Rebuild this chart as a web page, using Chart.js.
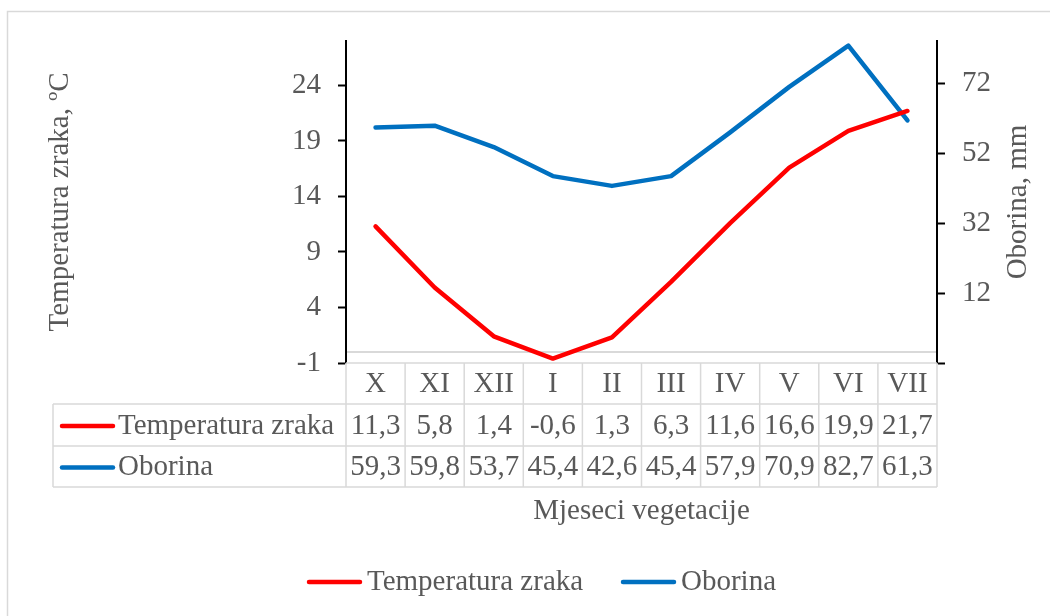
<!DOCTYPE html>
<html>
<head>
<meta charset="utf-8">
<script src="https://cdn.jsdelivr.net/npm/chart.js@4/dist/chart.umd.min.js"></script>
<style>
  html, body { margin: 0; padding: 0; background: #fff; overflow: hidden; }
  #wrap { position: relative; width: 1050px; height: 616px; }
</style>
</head>
<body>
<div id="wrap"><canvas id="chart" width="1050" height="616"></canvas></div>
<script>
var months = ["X", "XI", "XII", "I", "II", "III", "IV", "V", "VI", "VII"];
var temperatura = [11.3, 5.8, 1.4, -0.6, 1.3, 6.3, 11.6, 16.6, 19.9, 21.7];
var oborina = [59.3, 59.8, 53.7, 45.4, 42.6, 45.4, 57.9, 70.9, 82.7, 61.3];
var seriesNames = ["Temperatura zraka", "Oborina"];
var seriesColors = ["#FF0000", "#0070C0"];
var tempTicks = [-1, 4, 9, 14, 19, 24];
var oborinaTicks = [-8, 12, 32, 52, 72];

var FONT = "'Liberation Serif', 'Times New Roman', serif";
var TEXT = "#595959";
var GRID = "#d9d9d9";

function fmt(v) {
  return v.toFixed(1).replace(".", ",");
}

// draws the frame, the zero line, the data table and the bottom legend
var tablePlugin = {
  id: "dataTable",
  beforeDraw: function(chart) {
    var ctx = chart.ctx;
    ctx.save();
    ctx.strokeStyle = GRID;
    ctx.lineWidth = 1.5;
    ctx.beginPath();
    ctx.moveTo(7.5, 700);
    ctx.lineTo(7.5, 11.5);
    ctx.lineTo(1100, 11.5);
    ctx.stroke();

    var y0 = chart.scales.y.getPixelForValue(0);
    ctx.lineWidth = 2;
    ctx.beginPath();
    ctx.moveTo(chart.chartArea.left, y0);
    ctx.lineTo(chart.chartArea.right, y0);
    ctx.stroke();
    ctx.restore();
  },
  afterDraw: function(chart) {
    var ctx = chart.ctx;
    var x = chart.scales.x;
    var area = chart.chartArea;
    var rows = [area.bottom, 404, 446, 487];
    var labelLeft = 53;
    var edges = [];
    for (var i = 0; i <= months.length; i++) {
      edges.push(x.getPixelForValue(i - 0.5));
    }

    ctx.save();
    ctx.strokeStyle = GRID;
    ctx.lineWidth = 1.5;
    ctx.beginPath();
    ctx.moveTo(edges[0], rows[0]);
    ctx.lineTo(edges[edges.length - 1], rows[0]);
    for (var r = 1; r < rows.length; r++) {
      ctx.moveTo(labelLeft, rows[r]);
      ctx.lineTo(edges[edges.length - 1], rows[r]);
    }
    edges.forEach(function(ex) {
      ctx.moveTo(ex, rows[0]);
      ctx.lineTo(ex, rows[3]);
    });
    ctx.moveTo(labelLeft, rows[1]);
    ctx.lineTo(labelLeft, rows[3]);
    ctx.stroke();

    ctx.fillStyle = TEXT;
    ctx.font = "29px " + FONT;
    ctx.textAlign = "center";
    ctx.textBaseline = "middle";
    var data = [temperatura, oborina];
    months.forEach(function(m, i) {
      var cx = x.getPixelForValue(i);
      ctx.fillText(m, cx, (rows[0] + rows[1]) / 2 + 1);
      ctx.fillText(fmt(data[0][i]), cx, (rows[1] + rows[2]) / 2 + 1);
      ctx.fillText(fmt(data[1][i]), cx, (rows[2] + rows[3]) / 2 + 1);
    });

    // right axis title, reading bottom to top like the left one
    ctx.save();
    ctx.translate(1018, (area.top + area.bottom) / 2);
    ctx.rotate(-Math.PI / 2);
    ctx.fillText("Oborina, mm", 0, 0);
    ctx.restore();

    // series keys in the table
    ctx.textAlign = "left";
    ctx.lineCap = "round";
    ctx.lineWidth = 4.5;
    for (var s = 0; s < 2; s++) {
      var cy = (rows[s + 1] + rows[s + 2]) / 2;
      ctx.strokeStyle = seriesColors[s];
      ctx.beginPath();
      ctx.moveTo(62, cy + 1);
      ctx.lineTo(113, cy + 1);
      ctx.stroke();
      ctx.fillText(seriesNames[s], 118, cy + 1);
    }

    // legend
    var ly = 582;
    var lx = [309, 623];
    for (var k = 0; k < 2; k++) {
      ctx.strokeStyle = seriesColors[k];
      ctx.beginPath();
      ctx.moveTo(lx[k], ly);
      ctx.lineTo(lx[k] + 51, ly);
      ctx.stroke();
      ctx.fillText(seriesNames[k], lx[k] + 58, ly);
    }
    ctx.restore();
  }
};

var ctx = document.getElementById("chart");
var myChart = new Chart(ctx, {
  type: "line",
  data: {
    labels: months,
    datasets: [
      {
        label: seriesNames[0],
        data: temperatura,
        borderColor: seriesColors[0],
        backgroundColor: seriesColors[0],
        borderWidth: 4.5,
        pointRadius: 0,
        tension: 0,
        borderJoinStyle: "round",
        borderCapStyle: "round",
        yAxisID: "y"
      },
      {
        label: seriesNames[1],
        data: oborina,
        borderColor: seriesColors[1],
        backgroundColor: seriesColors[1],
        borderWidth: 4.5,
        pointRadius: 0,
        tension: 0,
        borderJoinStyle: "round",
        borderCapStyle: "round",
        yAxisID: "y1"
      }
    ]
  },
  options: {
    responsive: false,
    animation: false,
    devicePixelRatio: 1,
    layout: {
      padding: { top: 41, left: 20, right: 10, bottom: 86 }
    },
    plugins: {
      legend: { display: false },
      tooltip: { enabled: false }
    },
    scales: {
      x: {
        offset: true,
        grid: { display: false },
        border: { display: false },
        ticks: { display: false },
        title: {
          display: true,
          text: "Mjeseci vegetacije",
          color: TEXT,
          font: { family: FONT, size: 29 },
          padding: { top: 0, bottom: 1 }
        },
        afterFit: function(scale) {
          scale.height = 167;
        }
      },
      y: {
        position: "left",
        min: -1,
        max: 28,
        afterBuildTicks: function(scale) {
          scale.ticks = tempTicks.map(function(v) {
            return { value: v };
          });
        },
        ticks: {
          color: TEXT,
          padding: 17,
          font: { family: FONT, size: 29 }
        },
        grid: {
          drawOnChartArea: false,
          tickLength: 8,
          tickColor: "#000",
          tickWidth: 2
        },
        border: { color: "#000", width: 2 },
        title: {
          display: true,
          text: "Temperatura zraka, ºC",
          color: TEXT,
          font: { family: FONT, size: 29 },
          padding: { top: 23, bottom: 0 }
        },
        afterFit: function(scale) {
          scale.width = 326;
        }
      },
      y1: {
        position: "right",
        min: -8,
        max: 84,
        afterBuildTicks: function(scale) {
          scale.ticks = oborinaTicks.map(function(v) {
            return { value: v };
          });
        },
        ticks: {
          color: TEXT,
          padding: 17,
          font: { family: FONT, size: 29 },
          callback: function(v) {
            return v < 0 ? "" : v;
          }
        },
        grid: {
          drawOnChartArea: false,
          tickLength: 8,
          tickColor: "#000",
          tickWidth: 2
        },
        border: { color: "#000", width: 2 },
        afterFit: function(scale) {
          scale.width = 103;
        }
      }
    }
  },
  plugins: [tablePlugin]
});
</script>
</body>
</html>
